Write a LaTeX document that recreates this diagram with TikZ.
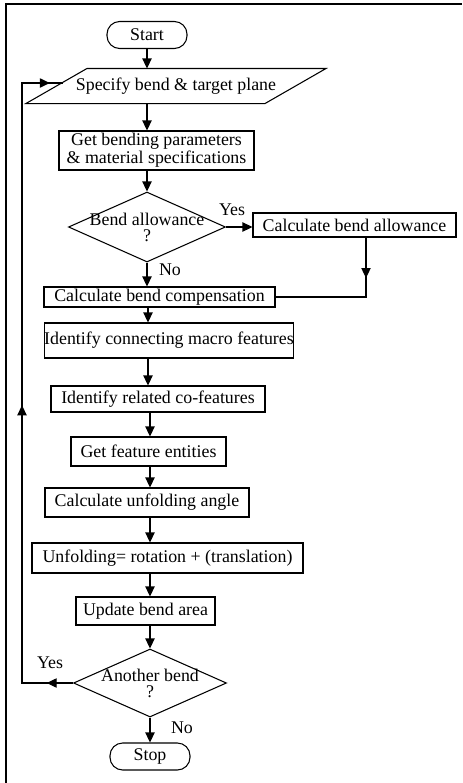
\documentclass[tikz,border=0pt]{standalone}
\usepackage{fontspec}
\setmainfont{Liberation Serif}
\usetikzlibrary{shapes.geometric,arrows.meta,decorations.markings}
\tikzset{
  mytip/.tip={Triangle[length=7.5pt,width=7pt]},
  box/.style={draw, rectangle, inner sep=0pt, align=center},
  sz/.style 2 args={minimum width=#1*0.75pt, minimum height=#2*0.75pt},
  term/.style={box, rounded corners=9.5pt},
  dec/.style={draw, diamond, inner sep=0pt},
  arr/.style={-mytip},
  lbl/.style={inner sep=0pt}}
\begin{document}
\begin{tikzpicture}[x=0.75pt,y=-0.75pt,
  font=\fontsize{13.4}{13.5}\selectfont, line width=0.8pt]
\useasboundingbox (0,0) rectangle (462,783);
% frame
\draw[line width=1.1pt] (6,783) -- (6,4) -- (462,4);
% axis helpers
\coordinate (ax) at (148,0);
\coordinate (bx) at (150,0);
% nodes
\node[term, sz={80}{27}] (start) at (147,35) {Start};
\node[inner sep=0pt, sz={238}{34}] (spec) at (176,86) {Specify bend \& target plane};
\draw ([xshift=22.9pt]spec.north west) -- ([xshift=22.9pt]spec.north east)
  -- ([xshift=-22.9pt]spec.south east) -- ([xshift=-22.9pt]spec.south west) -- cycle;
\node[box, sz={195}{39}] (par) at (156.5,150.5) {Get bending parameters\\\& material specifications};
\node[dec, sz={157}{70}] (d1) at (147,227) {\makebox[0pt]{\shortstack{Bend allowance\\?}}};
\node[box, sz={203}{24}] (allow) at (354.5,225) {Calculate bend allowance};
\node[box, sz={231}{20}] (comp) at (159.5,297) {Calculate bend compensation};
\node[box, sz={248}{35}] (macro) at (169,340.5) {Identify connecting macro features};
\node[box, sz={214}{26}] (cofeat) at (158,399) {Identify related co-features};
\node[box, sz={155}{29}] (ent) at (148.5,451.5) {Get feature entities};
\node[box, sz={204}{29}] (angle) at (147,502.5) {Calculate unfolding angle};
\node[box, sz={271}{30}] (unf) at (167.5,558) {Unfolding= rotation + (translation)};
\node[box, sz={139}{28}] (upd) at (145.5,611) {Update bend area};
\node[dec, sz={153}{68}] (d2) at (150,683) {\makebox[0pt]{\shortstack{Another bend\\?}}};
\node[term, sz={80}{27}] (stop) at (150,756.5) {Stop};
% labels
\node[lbl] (yes1) at (232,210) {Yes};
\node[lbl] (no1) at (170,270) {No};
\node[lbl] (yes2) at (50,663) {Yes};
\node[lbl] (no2) at (182,728) {No};
% connectors
\draw[arr] (start.south) -- (start.south |- spec.north);
\draw[arr] (spec.south -| start) -- (par.north -| start);
\draw[arr] (par.south -| start) -- (d1.north);
\draw[arr] (d1.east) -- (allow.west |- d1.east);
\draw[arr] (d1.south) -- (comp.north -| d1.south);
\coordinate (rj) at (366,297);
\draw[postaction={decorate}, decoration={markings,
  mark=at position 0.27 with {\arrow{mytip}}}]
  (allow.south -| rj) -- (rj) -- (comp.east);
\draw[arr] (comp.south -| ax) -- (macro.north -| ax);
\draw[arr] (macro.south -| ax) -- (cofeat.north -| ax);
\draw[arr] (cofeat.south -| bx) -- (ent.north -| bx);
\draw[arr] (ent.south -| bx) -- (angle.north -| bx);
\draw[arr] (angle.south -| bx) -- (unf.north -| bx);
\draw[arr] (unf.south -| bx) -- (upd.north -| bx);
\draw[arr] (upd.south -| bx) -- (d2.north);
\draw[arr] (d2.south) -- (stop.north);
% loop back
\coordinate (lb) at (22,683);
\coordinate (lt) at (22,83);
\coordinate (loopin) at (63,83);
\draw[postaction={decorate}, decoration={markings,
  mark=at position 0.038 with {\arrow{mytip}},
  mark=at position 0.475 with {\arrow{mytip}},
  mark=at position 0.981 with {\arrow{mytip}}}]
  (d2.west) -- (lb) -- (lt) -- (loopin);
\end{tikzpicture}
\end{document}
